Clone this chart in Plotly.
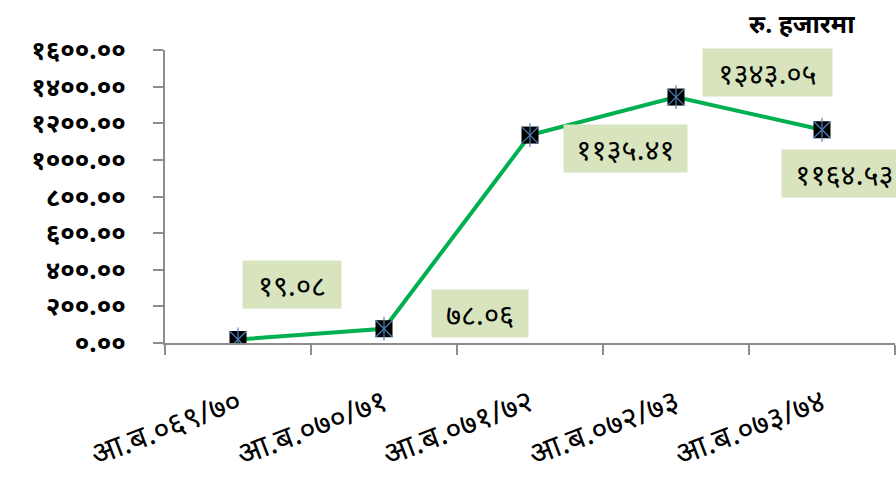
import plotly.graph_objects as go

# Fiscal years (Nepali) and amounts in thousand rupees
years = ["आ.ब.०६९/७०", "आ.ब.०७०/७१", "आ.ब.०७१/७२", "आ.ब.०७२/७३", "आ.ब.०७३/७४"]
amounts = [19.08, 78.06, 1135.41, 1343.05, 1164.53]
amount_labels = ["१९.०८", "७८.०६", "११३५.४१", "१३४३.०५", "११६४.५३"]

y_tick_vals = [0, 200, 400, 600, 800, 1000, 1200, 1400, 1600]
y_tick_text = ["०.००", "२००.००", "४००.००", "६००.००", "८००.००",
               "१०००.००", "१२००.००", "१४००.००", "१६००.००"]

# label box placement relative to each point (pixels) and box sizes
label_shift_x = [54, 96, 95, 91, 22]
label_shift_y = [55, 15, -13, 25, -44]
label_box_w = [98, 96, 123, 129, 125]

FONT = "Noto Sans, DejaVu Sans, sans-serif"
AXIS_GREY = "#8c8c8c"
STAR_BLUE = "#4f81bd"

fig = go.Figure()

fig.add_trace(go.Scatter(
    x=years, y=amounts, mode="lines+markers",
    line=dict(color="#00b050", width=4),
    marker=dict(symbol="square", size=17, color="black",
                line=dict(width=0)),
    hoverinfo="skip", showlegend=False,
))
# six-spoke star drawn on top of each square marker
for sym in ["x-thin-open", "line-ns-open"]:
    fig.add_trace(go.Scatter(
        x=years, y=amounts, mode="markers",
        marker=dict(symbol=sym, size=17, color=STAR_BLUE,
                    line=dict(color=STAR_BLUE, width=1.2)),
        hoverinfo="skip", showlegend=False,
    ))

for i, (yr, val, txt) in enumerate(zip(years, amounts, amount_labels)):
    fig.add_annotation(
        x=yr, y=val, xref="x", yref="y", text=txt, showarrow=False,
        xshift=label_shift_x[i], yshift=label_shift_y[i],
        bgcolor="#d7e4bd", width=label_box_w[i] - 8, height=39,
        borderpad=4, align="center",
        font=dict(family=FONT, size=29, color="black"),
    )

fig.add_annotation(
    xref="paper", yref="paper", x=(802 - 165) / 730, y=1 + (50 - 23) / 293,
    xanchor="center", yanchor="middle", text="<b>रु. हजारमा</b>",
    showarrow=False, font=dict(family=FONT, size=25, color="black"),
)

fig.update_layout(
    width=896, height=477,
    margin=dict(l=165, r=1, t=50, b=134, autoexpand=False),
    paper_bgcolor="white", plot_bgcolor="white",
    font=dict(family=FONT, color="black"),
)

fig.update_xaxes(
    type="category", range=[-0.5, 4.5], automargin=False,
    showline=True, linecolor=AXIS_GREY, linewidth=2,
    ticks="outside", ticklen=10, tickcolor=AXIS_GREY, tickwidth=2,
    tickson="boundaries", showgrid=False, zeroline=False,
    tickangle=-21, ticklabelstandoff=28,
    tickfont=dict(family=FONT, size=31, color="black"),
)
fig.update_yaxes(
    range=[0, 1600], tickvals=y_tick_vals, ticktext=y_tick_text,
    automargin=False,
    showline=True, linecolor=AXIS_GREY, linewidth=2,
    ticks="outside", ticklen=10, tickcolor=AXIS_GREY, tickwidth=2,
    showgrid=False, zeroline=False, ticklabelstandoff=22,
    tickfont=dict(family=FONT, size=26, color="black", weight="bold"),
)

fig.write_html("out.html")
